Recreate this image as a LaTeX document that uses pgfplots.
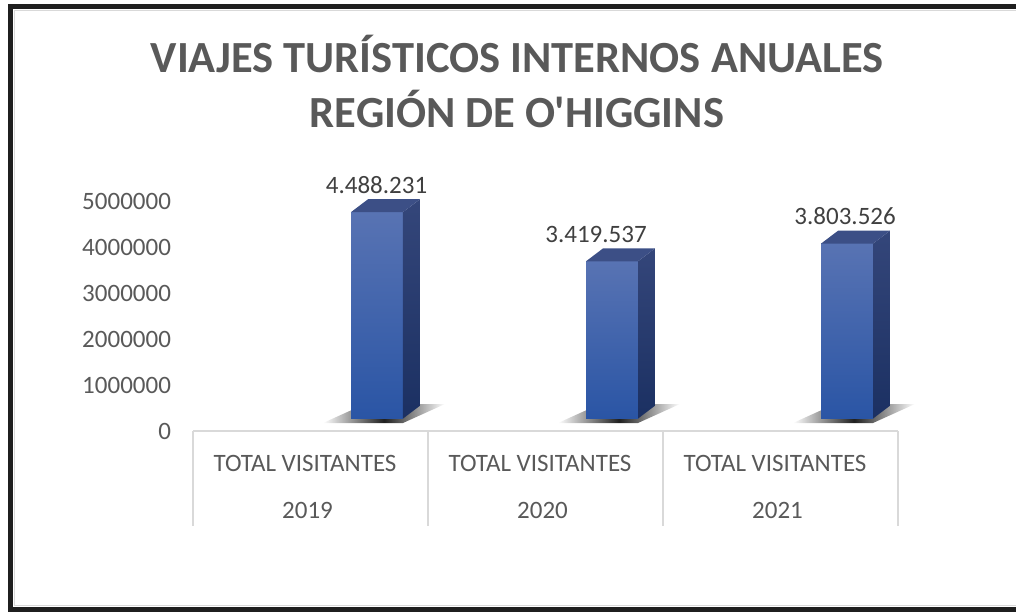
\documentclass[border=0pt]{standalone}
\usepackage{pgfplots}
\pgfplotsset{compat=1.18}
\usepackage{pgfplotstable}
\usepackage{fontspec}
\setmainfont{Carlito}[Ligatures=TeXOff]
\definecolor{txt}{HTML}{595959}
\definecolor{lbl}{HTML}{404040}
\definecolor{tbl}{HTML}{D9D9D9}
\definecolor{frontT}{HTML}{5873B3}
\definecolor{frontB}{HTML}{2A55A5}
\definecolor{sideT}{HTML}{34467A}
\definecolor{sideB}{HTML}{1B3062}
\definecolor{topF}{HTML}{3C4F86}

% values (visitors) and label x-position
\pgfplotstableread{
x v lx label
0 4488231 0.281 4.488.231
1 3419537 1.215 3.419.537
2 3803526 2.275 3.803.526
}\data

\begin{document}
\begin{tikzpicture}
\clip (0,0) rectangle (508pt,306pt);
% frame
\draw[line width=2.5pt, color=black!88] (5.25pt,1.5pt) rectangle (512pt,302.75pt);
\draw[line width=0.6pt, color=black!15] (7.1pt,3.4pt) rectangle (512pt,300.9pt);
% title
\node[anchor=base, font=\fontsize{22.25}{27}\selectfont\bfseries, text=txt] at (258.5pt,269.65pt) {VIAJES TURÍSTICOS INTERNOS ANUALES};
\node[anchor=base, font=\fontsize{22.25}{27}\selectfont\bfseries, text=txt] at (258.5pt,242.5pt) {REGIÓN DE O'HIGGINS};
\begin{axis}[
  at={(96.5pt,90.5pt)}, anchor=south west,
  scale only axis, width=352.5pt, height=115pt,
  xmin=-0.5, xmax=2.5, ymin=0, ymax=5000000,
  clip=false,
  axis line style={draw=none},
  xtick=\empty,
  ytick={0,1000000,2000000,3000000,4000000,5000000},
  major tick length=0pt,
  scaled y ticks=false,
  /pgf/number format/assume math mode=true,
  yticklabel style={/pgf/number format/fixed, /pgf/number format/1000 sep={},
    font=\fontsize{12.5}{15}\selectfont, text=txt, xshift=-7.5pt},
]
% category table
\draw[tbl, line width=1pt] (axis cs:-0.5,0) -- (axis cs:2.5,0);
\pgfplotsinvokeforeach{-0.5,0.5,1.5,2.5}{\draw[tbl, line width=1pt] (axis cs:#1,0) -- ++(0pt,-47.5pt);}
\path (axis cs:0,0) ++(-2.75pt,-20pt) node[anchor=base, font=\fontsize{12.5}{15}\selectfont, text=txt]{TOTAL VISITANTES};
\path (axis cs:0,0) ++(-1.5pt,-43.5pt) node[anchor=base, font=\fontsize{12.5}{15}\selectfont, text=txt]{2019};
\path (axis cs:1,0) ++(-2.75pt,-20pt) node[anchor=base, font=\fontsize{12.5}{15}\selectfont, text=txt]{TOTAL VISITANTES};
\path (axis cs:1,0) ++(-1.5pt,-43.5pt) node[anchor=base, font=\fontsize{12.5}{15}\selectfont, text=txt]{2020};
\path (axis cs:2,0) ++(-2.75pt,-20pt) node[anchor=base, font=\fontsize{12.5}{15}\selectfont, text=txt]{TOTAL VISITANTES};
\path (axis cs:2,0) ++(-1.5pt,-43.5pt) node[anchor=base, font=\fontsize{12.5}{15}\selectfont, text=txt]{2021};

% shadows
\addplot[draw=none, left color=white, right color=white, middle color=black!88] coordinates {(0.0532,174000) (0.3936,174000) (0.5723,587000) (0.2319,587000)} -- cycle;
\addplot[draw=none, left color=white, right color=white, middle color=black!88] coordinates {(1.0532,174000) (1.3936,174000) (1.5723,587000) (1.2319,587000)} -- cycle;
\addplot[draw=none, left color=white, right color=white, middle color=black!88] coordinates {(2.0532,174000) (2.3936,174000) (2.5723,587000) (2.2319,587000)} -- cycle;

% bar 2019: value 4488231 (front face from 270000 to 270000+value, depth offset 280000)
\addplot[draw=none, top color=frontT, bottom color=frontB] coordinates {(0.1724,270000) (0.3936,270000) (0.3936,4758231) (0.1724,4758231)} -- cycle;
\addplot[draw=none, top color=sideT, bottom color=sideB] coordinates {(0.3936,270000) (0.4659,550000) (0.4659,5038231) (0.3936,4758231)} -- cycle;
\addplot[draw=none, fill=topF] coordinates {(0.1724,4758231) (0.3936,4758231) (0.4659,5038231) (0.2447,5038231)} -- cycle;
% bar 2020: value 3419537
\addplot[draw=none, top color=frontT, bottom color=frontB] coordinates {(1.1724,270000) (1.3936,270000) (1.3936,3689537) (1.1724,3689537)} -- cycle;
\addplot[draw=none, top color=sideT, bottom color=sideB] coordinates {(1.3936,270000) (1.4659,550000) (1.4659,3969537) (1.3936,3689537)} -- cycle;
\addplot[draw=none, fill=topF] coordinates {(1.1724,3689537) (1.3936,3689537) (1.4659,3969537) (1.2447,3969537)} -- cycle;
% bar 2021: value 3803526
\addplot[draw=none, top color=frontT, bottom color=frontB] coordinates {(2.1724,270000) (2.3936,270000) (2.3936,4073526) (2.1724,4073526)} -- cycle;
\addplot[draw=none, top color=sideT, bottom color=sideB] coordinates {(2.3936,270000) (2.4659,550000) (2.4659,4353526) (2.3936,4073526)} -- cycle;
\addplot[draw=none, fill=topF] coordinates {(2.1724,4073526) (2.3936,4073526) (2.4659,4353526) (2.2447,4353526)} -- cycle;

% data labels
\addplot[draw=none, mark=none, nodes near coords, point meta=explicit symbolic,
  every node near coord/.append style={anchor=base, font=\fontsize{12.5}{15}\selectfont, text=lbl}]
  table[x=lx, y expr=\thisrow{v}+675000, meta=label]{\data};
\end{axis}
\end{tikzpicture}
\end{document}
